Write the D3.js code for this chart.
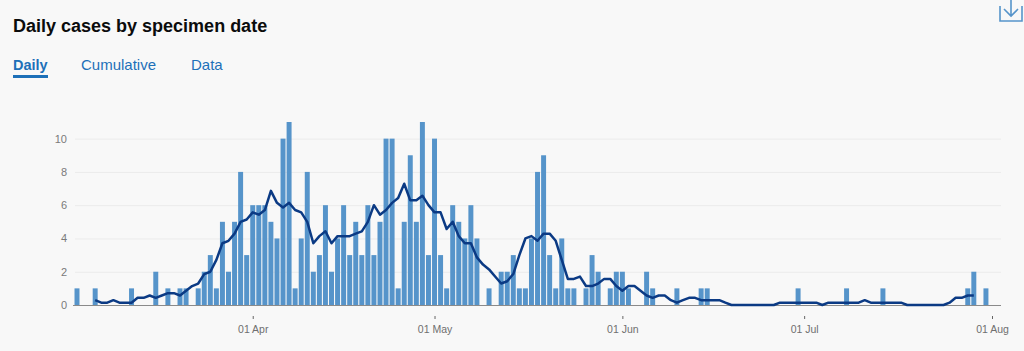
<!DOCTYPE html>
<html>
<head>
<meta charset="utf-8">
<script src="https://cdn.jsdelivr.net/npm/d3@7"></script>
<style>
  body { margin: 0; background: #f8f8f8; font-family: "Liberation Sans", Arial, sans-serif; }
  svg { display: block; }
</style>
</head>
<body>
<svg width="1024" height="351"></svg>
<script>
// daily cases, one value per day starting 03 Mar 2020
const firstDay = "2020-03-03";
const dailyCases = [
  1, 0, 0, 1, 0, 0, 0, 0, 0, 1,
  0, 0, 0, 2, 0, 1, 0, 1, 1, 0,
  1, 2, 3, 1, 5, 2, 5, 8, 3, 6,
  6, 6, 5, 4, 10, 11, 1, 4, 8, 2,
  3, 6, 2, 4, 6, 3, 5, 3, 6, 3,
  5, 10, 10, 1, 5, 9, 5, 11, 3, 10,
  3, 1, 6, 5, 4, 6, 4, 0, 1, 0,
  2, 2, 3, 1, 1, 4, 8, 9, 3, 1,
  4, 1, 1, 0, 1, 3, 2, 0, 1, 2,
  2, 1, 0, 0, 2, 1, 0, 0, 0, 1,
  0, 0, 0, 1, 1, 0, 0, 0, 0, 0,
  0, 0, 0, 0, 0, 0, 0, 0, 0, 1,
  0, 0, 0, 0, 0, 0, 0, 1, 0, 0,
  0, 0, 0, 1, 0, 0, 0, 0, 0, 0,
  0, 0, 0, 0, 0, 0, 0, 1, 2, 0,
  1
];

// 7-day average line, starts on the 4th day (06 Mar)
const avgOffset = 3;
const rollingAvg = [
  0.29, 0.14, 0.14, 0.29, 0.14, 0.14, 0.14,
  0.43, 0.43, 0.57, 0.43, 0.57, 0.71, 0.71, 0.57, 0.86, 1.14,
  1.29, 1.86, 2, 2.71, 3.71, 3.86, 4.29, 5, 5.14, 5.57,
  5.43, 5.71, 6.86, 6.14, 5.86, 6.14, 5.71, 5.57, 5, 3.71,
  4.14, 4.43, 3.71, 4.14, 4.14, 4.14, 4.29, 4.43, 5, 6,
  5.43, 5.71, 6.14, 6.43, 7.29, 6.29, 6.29, 6.57, 6, 5.57,
  5.57, 4.57, 5, 4.14, 3.71, 3.71, 2.86, 2.43, 2.14, 1.71,
  1.29, 1.43, 1.86, 3, 4, 4.14, 3.86, 4.29, 4.29, 3.86,
  2.71, 1.57, 1.57, 1.71, 1.14, 1.14, 1.29, 1.57, 1.57, 1.14,
  0.86, 1.14, 1.14, 0.86, 0.57, 0.43, 0.57, 0.57, 0.29, 0.14,
  0.29, 0.43, 0.43, 0.29, 0.29, 0.29, 0.29, 0.14, 0, 0,
  0, 0, 0, 0, 0, 0, 0.14, 0.14, 0.14, 0.14,
  0.14, 0.14, 0.14, 0, 0.14, 0.14, 0.14, 0.14, 0.14, 0.14,
  0.29, 0.14, 0.14, 0.14, 0.14, 0.14, 0.14, 0, 0, 0,
  0, 0, 0, 0, 0.14, 0.43, 0.43, 0.57, 0.57
];

const yTicks = [0, 2, 4, 6, 8, 10];
const xTickDates = ["2020-04-01", "2020-05-01", "2020-06-01", "2020-07-01", "2020-08-01"];
const tabs = ["Daily", "Cumulative", "Data"];

const parse = d3.utcParse("%Y-%m-%d");
const start = parse(firstDay);

const bars = dailyCases.map((v, i) => ({ date: d3.utcDay.offset(start, i), value: v }));
const avg = rollingAvg.map((v, i) => ({ date: d3.utcDay.offset(start, i + avgOffset), value: v }));

const svg = d3.select("svg");

// heading and tabs
svg.append("text")
  .attr("x", 13).attr("y", 32)
  .attr("font-size", 18).attr("font-weight", "bold")
  .attr("fill", "#0b0c0c")
  .text("Daily cases by specimen date");

const tabX = [13, 81, 191];
svg.selectAll(".tab")
  .data(tabs)
  .enter().append("text")
  .attr("class", "tab")
  .attr("x", (d, i) => tabX[i]).attr("y", 70)
  .attr("font-size", (d, i) => i === 0 ? 14.5 : 15)
  .attr("font-weight", (d, i) => i === 0 ? "bold" : "normal")
  .attr("fill", "#1d70b8")
  .text(d => d);

svg.append("rect")
  .attr("x", 13).attr("y", 75)
  .attr("width", 35).attr("height", 3)
  .attr("fill", "#1d70b8");

// download icon, top right
const icon = svg.append("g")
  .attr("fill", "none")
  .attr("stroke", "#5694ca")
  .attr("stroke-width", 1.6);
icon.append("path").attr("d", "M1000,6 V21 H1022 V6");
icon.append("path").attr("d", "M1011,0 V16 M1004,9 L1011,16 L1018,9");

// plot area
const plotLeft = 75, plotRight = 1001, plotTop = 122, plotBottom = 305;

const x = d3.scaleUtc()
  .domain([start, parse("2020-08-01")])
  .range([77, 992]);

const y = d3.scaleLinear()
  .domain([0, 11])
  .range([plotBottom, plotTop]);

svg.append("g")
  .attr("transform", `translate(${plotLeft},0)`)
  .call(d3.axisLeft(y).tickValues(yTicks).tickSize(-(plotRight - plotLeft)).tickPadding(8))
  .call(g => g.select(".domain").remove())
  .call(g => g.selectAll("line").attr("stroke", "#ebebeb"))
  .call(g => g.selectAll("text")
    .attr("fill", "#7a7a7a")
    .attr("font-size", 11)
    .attr("font-family", "Liberation Sans, Arial, sans-serif"));

const dayW = x(d3.utcDay.offset(start, 1)) - x(start);
const barW = dayW * 0.82;

svg.append("g")
  .selectAll("rect")
  .data(bars)
  .enter().append("rect")
  .attr("x", d => x(d.date) - barW / 2)
  .attr("y", d => y(d.value))
  .attr("width", barW)
  .attr("height", d => plotBottom - y(d.value))
  .attr("fill", "#5694ca");

svg.append("line")
  .attr("x1", plotLeft - 2).attr("x2", plotRight)
  .attr("y1", plotBottom + 0.5).attr("y2", plotBottom + 0.5)
  .attr("stroke", "#8a8a8a");

const line = d3.line()
  .x(d => x(d.date))
  .y(d => y(d.value));

svg.append("path")
  .datum(avg)
  .attr("fill", "none")
  .attr("stroke", "#0b3a84")
  .attr("stroke-width", 2.5)
  .attr("stroke-linejoin", "round")
  .attr("d", line);

svg.append("g")
  .attr("transform", "translate(0,316)")
  .call(d3.axisBottom(x)
    .tickValues(xTickDates.map(parse))
    .tickFormat(d3.utcFormat("%d %b"))
    .tickSize(3)
    .tickPadding(7))
  .call(g => g.select(".domain").remove())
  .call(g => g.selectAll("line").attr("stroke", "#666"))
  .call(g => g.selectAll("text")
    .attr("fill", "#6f6f6f")
    .attr("font-size", 10.5)
    .attr("font-family", "Liberation Sans, Arial, sans-serif"));
</script>
</body>
</html>
